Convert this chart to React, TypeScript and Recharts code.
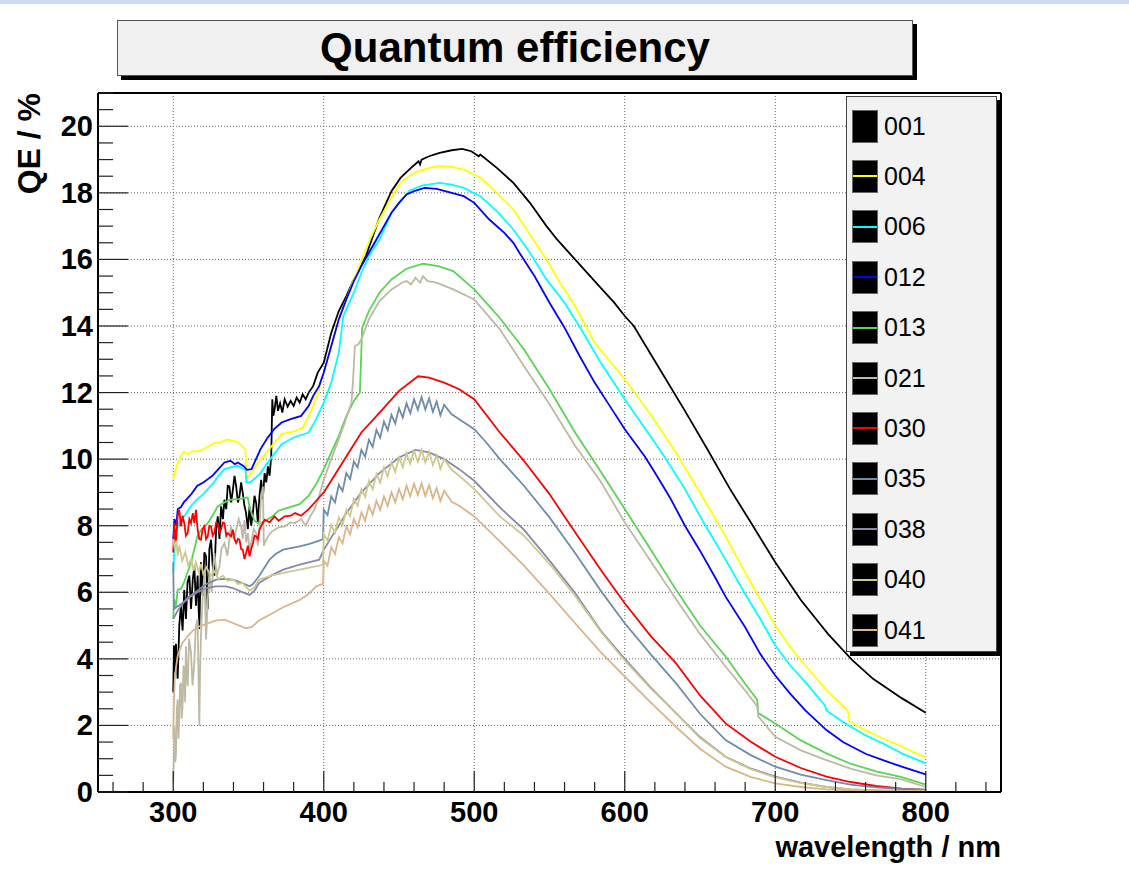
import React from 'react';
import { LineChart, Line, XAxis, YAxis, CartesianGrid, ReferenceLine, Label } from 'recharts';

type Pt = [number, number];

// axis ticks (minor every 20 nm / 0.5 %, labels on majors)
const WAVELENGTH_TICKS = [260, 280, 300, 320, 340, 360, 380, 400, 420, 440, 460, 480, 500, 520, 540, 560, 580, 600, 620, 640, 660, 680, 700, 720, 740, 760, 780, 800, 820, 840];
const WAVELENGTH_LABELS = [300, 400, 500, 600, 700, 800];
const QE_TICKS = [0, 0.5, 1, 1.5, 2, 2.5, 3, 3.5, 4, 4.5, 5, 5.5, 6, 6.5, 7, 7.5, 8, 8.5, 9, 9.5, 10, 10.5, 11, 11.5, 12, 12.5, 13, 13.5, 14, 14.5, 15, 15.5, 16, 16.5, 17, 17.5, 18, 18.5, 19, 19.5, 20, 20.5, 21];
const QE_LABELS = [0, 2, 4, 6, 8, 10, 12, 14, 16, 18, 20];

// measured curves: [wavelength nm, QE %]
const QE_001: Pt[] = [
  [300, 3.0], [300.5, 4.4], [301, 3.6], [301.8, 4.45], [302.9, 3.4], [303.5, 4.2], [304, 5.0], [305.1, 5.6], [306.2, 4.85], [307.3, 6.07],
  [308.4, 5.2], [309.5, 6.3], [310.7, 6.5], [311.8, 5.5], [313, 6.4], [314, 6.78], [315.1, 5.6], [316.2, 6.5], [317.3, 4.9], [318.4, 6.9],
  [319.6, 5.9], [320.7, 7.2], [321.8, 7.08], [322.9, 5.5], [324, 7.3], [325.1, 7.58], [326.2, 6.8], [327.3, 6.5], [328.5, 7.9], [329.6, 8.28],
  [330.7, 7.6], [331.8, 8.58], [333, 8.2], [334, 8.78], [335.2, 8.5], [336.2, 9.2], [337.3, 9.18], [338.5, 8.7], [339.6, 9.08], [340.7, 9.5],
  [341.8, 9.18], [343, 8.7], [344, 8.88], [345.1, 9.3], [346.2, 8.98], [347.3, 8.6], [348.4, 8.38], [349.6, 7.9], [350.7, 8.58], [351.8, 8.0],
  [352.9, 8.38], [354, 8.9], [355.1, 8.68], [356.2, 8.1], [357.3, 8.88], [358.4, 9.38], [359.5, 8.8], [360.7, 9.58], [361.8, 9.3], [362.9, 9.78],
  [364, 9.5], [365.1, 10.08], [365.8, 11.8], [366.5, 11.3], [367.3, 11.48], [368.5, 11.9], [369.6, 11.45], [371, 11.68], [372.5, 11.4], [374, 11.8],
  [376, 11.58], [378, 11.75], [380, 11.6], [382, 11.85], [384, 11.7], [386, 11.95], [388, 11.8], [390, 12.0], [393, 12.2], [396, 12.6],
  [400, 12.9], [405, 13.8], [410, 14.45], [415, 14.9], [420, 15.4], [428, 16.1], [437, 17.25], [445, 18.05], [451, 18.45], [458, 18.75],
  [463, 18.95], [464, 18.85], [465, 19.0], [470, 19.1], [477, 19.2], [485, 19.28], [492, 19.32], [498, 19.25], [503, 19.1], [504, 19.15],
  [515, 18.75], [526, 18.3], [537, 17.7], [548, 17.0], [555, 16.6], [571, 15.8], [583, 15.2], [593, 14.7], [600, 14.3],
  [606, 14.0], [620, 12.95], [640, 11.45], [655, 10.29], [670, 9.1], [684, 8.08], [700, 6.9], [717, 5.77], [735, 4.75], [751, 3.97],
  [765, 3.4], [784, 2.82], [800, 2.38],
];

const QE_004: Pt[] = [
  [300, 9.38], [301, 9.6], [303, 9.88], [305, 10.1], [307, 10.23], [310, 10.15], [313, 10.25], [316, 10.23], [320, 10.3], [324, 10.4],
  [327, 10.48], [331, 10.5], [336, 10.59], [340, 10.55], [343, 10.5], [345, 10.43], [348, 10.28], [348.6, 9.43], [352, 9.6], [355, 9.8],
  [358, 9.98], [362, 10.2], [367, 10.48], [372, 10.75], [381, 10.84], [386, 10.95], [390, 11.3], [393, 11.6], [397, 12.1], [402, 12.89],
  [410, 14.2], [420, 15.4], [430.7, 16.6], [437, 17.2], [445, 17.85], [450.7, 18.3], [460, 18.6], [470, 18.75], [477, 18.8], [485, 18.78],
  [493, 18.7], [504, 18.46], [515, 18.0], [526, 17.5], [537, 16.75], [548, 16.0], [557, 15.3], [567, 14.6], [580, 13.5], [590, 12.95],
  [600, 12.4], [617, 11.35], [634, 10.2], [650, 9.0], [667, 7.68], [680, 6.6], [690, 5.8], [700, 5.0], [710, 4.35], [720, 3.8],
  [734, 3.07], [748, 2.45], [749.5, 2.12], [760, 1.85], [772, 1.6], [784, 1.36], [800, 1.04],
];

const QE_006: Pt[] = [
  [300, 6.6], [301, 7.4], [302, 7.8], [304, 8.1], [306, 8.2], [309, 8.4], [312, 8.6], [316, 8.8], [320, 8.95], [323, 9.1],
  [327, 9.3], [330, 9.5], [334, 9.7], [338, 9.75], [343, 9.8], [346, 9.72], [348, 9.68], [348.6, 9.3], [351, 9.3], [355, 9.45],
  [358, 9.58], [362, 9.85], [367, 10.15], [372, 10.45], [380, 10.65], [390, 10.8], [395, 11.2], [400, 11.7], [405, 12.3], [410, 13.2],
  [413, 14.3], [420, 15.0], [425, 15.6], [430, 16.1], [437, 16.6], [445, 17.4], [450, 17.7], [457, 18.06], [465, 18.22], [477, 18.3],
  [485, 18.25], [493, 18.15], [504, 17.9], [515, 17.45], [526, 16.9], [537, 16.2], [548, 15.4], [560, 14.7], [571, 13.9], [584, 12.9],
  [600, 11.8], [613, 10.95], [626, 10.1], [640, 9.1], [653, 8.05], [667, 6.98], [680, 5.95], [690, 5.2], [700, 4.4], [710, 3.8],
  [720, 3.3], [733, 2.6], [734, 2.45], [745, 2.1], [760, 1.7], [772, 1.45], [784, 1.16], [800, 0.86],
];

const QE_012: Pt[] = [
  [300, 7.6], [300.8, 8.2], [302, 8.0], [303, 8.5], [305, 8.55], [307, 8.7], [309, 8.8], [312, 8.95], [316, 9.2], [320, 9.3],
  [323, 9.4], [326, 9.5], [330, 9.7], [334, 9.9], [338, 9.95], [341, 9.85], [343, 9.9], [347, 9.78], [349, 9.68], [352, 9.7],
  [355, 10.0], [358, 10.3], [362, 10.6], [367, 10.9], [372, 11.1], [378, 11.2], [385, 11.3], [390, 11.6], [393, 11.9], [397, 12.2],
  [400, 12.6], [405, 13.4], [410, 14.2], [415, 14.8], [420, 15.35], [425, 15.8], [430, 16.2], [435, 16.6], [440, 17.0], [445, 17.4],
  [450, 17.7], [455, 17.95], [460, 18.05], [467, 18.15], [475, 18.12], [485, 18.0], [493, 17.9], [500, 17.7], [510, 17.2], [520, 16.8],
  [526, 16.5], [530, 16.2], [540, 15.5], [550, 14.7], [560, 13.95], [570, 13.1], [580, 12.3], [590, 11.6], [600, 10.9], [613, 10.1],
  [620, 9.6], [630, 8.85], [640, 8.0], [650, 7.25], [660, 6.45], [667, 5.87], [680, 4.95], [690, 4.15], [700, 3.5], [710, 2.95],
  [720, 2.45], [734, 1.86], [745, 1.5], [760, 1.15], [772, 0.95], [784, 0.76], [800, 0.53],
];

const QE_013: Pt[] = [
  [300, 5.2], [300.6, 5.8], [301.5, 5.5], [303, 6.08], [305, 6.1], [307, 6.28], [309.5, 6.6], [311.8, 6.88], [314, 7.3], [316, 7.68],
  [319, 7.9], [323, 8.08], [326, 8.3], [329.6, 8.58], [334, 8.7], [338, 8.78], [343, 8.8], [347, 8.83], [349.5, 8.85], [351, 8.5],
  [354, 8.15], [357, 8.05], [361, 8.15], [365, 8.25], [370, 8.45], [377, 8.55], [384, 8.65], [390, 8.9], [395, 9.25], [400, 9.7],
  [405, 10.2], [410, 10.7], [415, 11.29], [420, 11.75], [424, 12.0], [424.8, 13.0], [425.5, 13.94], [430, 14.45], [437, 15.0], [445, 15.4],
  [455, 15.72], [466, 15.87], [476, 15.8], [486, 15.65], [500, 15.1], [517, 14.24], [533, 13.3], [550, 12.1], [567, 10.8], [584, 9.63],
  [600, 8.5], [617, 7.3], [634, 6.08], [650, 5.0], [667, 4.07], [680, 3.25], [688, 2.77], [688.7, 2.37], [700, 2.06], [717, 1.55],
  [734, 1.16], [750, 0.85], [767, 0.62], [784, 0.45], [800, 0.22],
];

const QE_021: Pt[] = [
  [300, 0.3], [300.5, 1.2], [300.7, 2.0], [301.3, 0.9], [301.8, 1.1], [302.4, 2.5], [302.9, 2.78], [303.5, 1.6], [304, 2.28], [304.5, 3.2],
  [305.1, 3.28], [305.6, 2.2], [306.2, 2.58], [306.8, 3.8], [307.3, 3.58], [307.9, 2.7], [308.4, 4.38], [309, 3.5], [309.6, 3.18], [310.5, 4.6],
  [311.8, 4.18], [312.8, 3.2], [314, 3.88], [315, 5.0], [316.2, 5.18], [317.3, 1.98], [317.8, 3.5], [318.4, 4.68], [319.5, 5.8], [320.7, 6.58],
  [321.8, 4.58], [323, 5.8], [324, 6.58], [325.5, 6.0], [327.3, 7.18], [329, 6.5], [330.7, 6.78], [332, 7.3], [334, 7.48], [336, 7.1],
  [338.4, 7.98], [340, 7.6], [341.8, 7.88], [343.5, 8.2], [345.1, 7.98], [346.2, 7.6], [347.3, 8.18], [348.5, 7.5], [349.6, 7.78], [350.7, 7.3],
  [351.8, 7.48], [353.5, 7.9], [355.1, 7.78], [356.2, 7.4], [357.3, 7.98], [358.4, 8.88], [359.6, 9.18], [360.2, 7.4], [360.7, 7.48], [362.9, 7.68],
  [365, 7.8], [367.3, 7.88], [370, 7.95], [374, 7.98], [378, 8.1], [381, 8.08], [385, 8.2], [388, 8.0], [391, 8.28], [394, 8.5],
  [397, 8.9], [400, 9.38], [405, 10.0], [410, 10.6], [414, 11.1], [418.4, 11.7], [419.5, 12.4], [420.7, 13.4], [423, 13.45], [425, 13.6],
  [430, 14.2], [437, 14.75], [445, 15.1], [452, 15.3], [455, 15.35], [458, 15.25], [461, 15.45], [464, 15.3], [466, 15.5], [469, 15.35],
  [475, 15.3], [486, 15.1], [500, 14.8], [517, 13.9], [533, 12.8], [550, 11.65], [567, 10.4], [584, 9.33], [600, 8.1], [617, 6.95],
  [634, 5.8], [650, 4.75], [667, 3.77], [680, 3.05], [688, 2.57], [688.7, 2.27], [700, 1.66], [717, 1.25], [734, 0.96], [750, 0.7],
  [767, 0.5], [784, 0.38], [800, 0.15],
];

const QE_030: Pt[] = [
  [300, 7.2], [300.7, 8.08], [301.8, 7.48], [302.9, 8.28], [304, 8.48], [305.1, 7.98], [306.2, 8.3], [307.3, 8.08], [308.4, 7.7], [309.6, 7.78],
  [310.7, 8.2], [311.8, 8.08], [313, 8.38], [314, 8.08], [315.1, 8.48], [316.2, 7.88], [317.3, 7.6], [318.4, 7.58], [319.6, 7.9], [320.7, 7.98],
  [321.8, 7.6], [322.9, 7.68], [324, 8.0], [325.1, 7.98], [326.2, 7.7], [327.3, 7.78], [328.5, 8.1], [329.6, 8.08], [330.7, 7.8], [331.8, 7.88],
  [333, 8.1], [334, 8.08], [335.2, 7.7], [336.2, 7.78], [338.4, 7.68], [339.6, 7.88], [340.7, 7.6], [341.8, 7.48], [343, 7.6], [344, 7.58],
  [345.1, 7.3], [346.2, 7.28], [347.3, 7.0], [348.4, 7.18], [349.6, 7.4], [350.7, 7.08], [351.8, 7.3], [353, 7.48], [354, 7.7], [355.1, 7.68],
  [356.2, 7.6], [357.3, 7.88], [358.4, 7.98], [360.7, 8.18], [364, 8.1], [367.3, 8.28], [370, 8.15], [374, 8.28], [378, 8.3], [381, 8.38],
  [385, 8.3], [390, 8.5], [395, 8.75], [400, 9.0], [407, 9.5], [415, 10.08], [425, 10.8], [437, 11.39], [450, 12.05], [462.7, 12.49],
  [470, 12.45], [480, 12.3], [490, 12.1], [500, 11.8], [517, 10.8], [533, 9.95], [550, 8.95], [567, 7.8], [584, 6.68], [600, 5.67],
  [617, 4.7], [634, 3.87], [650, 2.9], [667, 2.06], [684, 1.5], [700, 1.06], [717, 0.72], [734, 0.46], [750, 0.3], [767, 0.18],
  [784, 0.1], [800, 0.06],
];

const QE_035: Pt[] = [
  [300, 6.9], [300.4, 5.5], [302, 5.55], [306, 5.67], [310, 5.85], [317, 6.08], [322, 6.25], [328.5, 6.38], [334, 6.4], [339.5, 6.38],
  [346, 6.28], [350.7, 6.18], [353, 6.25], [357, 6.48], [360, 6.7], [364, 6.98], [368, 7.15], [373, 7.28], [378, 7.33], [384, 7.38],
  [390, 7.45], [397, 7.55], [399.5, 7.6], [400, 8.48], [402.5, 8.32], [405, 8.88], [407.5, 8.7], [410, 9.23], [412.5, 9.04], [415, 9.58],
  [417.5, 9.4], [420, 9.93], [422.5, 9.75], [425, 10.28], [427.5, 10.07], [430, 10.58], [432.5, 10.37], [435, 10.88], [437.5, 10.64], [440, 11.13],
  [442.5, 10.87], [445, 11.33], [447.5, 11.07], [450, 11.53], [452.5, 11.25], [455, 11.68], [457.5, 11.38], [460, 11.8], [462.5, 11.48], [465, 11.86],
  [467.5, 11.49], [470, 11.83], [472.5, 11.42], [475, 11.73], [477.5, 11.32], [480, 11.63], [485, 11.35], [490, 11.2], [500, 10.9], [508, 10.5],
  [517, 10.0], [533, 9.2], [550, 8.25], [567, 7.18], [584, 6.05], [600, 5.07], [617, 4.15], [634, 3.27], [650, 2.35], [667, 1.56],
  [684, 1.1], [700, 0.76], [717, 0.52], [734, 0.36], [750, 0.22], [767, 0.14], [784, 0.09], [800, 0.07],
];

const QE_038: Pt[] = [
  [300, 5.2], [303, 5.45], [307, 5.7], [311, 5.85], [316, 6.0], [322, 6.12], [328, 6.18], [335, 6.18], [340, 6.12], [345, 6.02],
  [350.7, 5.92], [354, 6.05], [357, 6.28], [365, 6.5], [373, 6.68], [384, 6.83], [392, 6.92], [397, 6.98], [400, 7.28], [405, 7.65],
  [410, 8.0], [415, 8.38], [425, 9.0], [437, 9.58], [450, 10.05], [461, 10.28], [470, 10.2], [480, 10.0], [490, 9.7], [500, 9.35],
  [517, 8.55], [533, 7.88], [550, 6.95], [567, 5.98], [584, 4.85], [600, 4.0], [617, 3.15], [634, 2.37], [650, 1.65], [667, 1.06],
  [684, 0.7], [700, 0.46], [717, 0.28], [734, 0.15], [750, 0.08], [767, 0.05], [784, 0.03], [800, 0.03],
];

const QE_040: Pt[] = [
  [300, 7.6], [301, 7.3], [302, 7.55], [303, 7.1], [304, 7.4], [306, 6.95], [308, 7.2], [310, 6.8], [312, 7.0], [313.5, 6.65],
  [315, 6.9], [317, 6.6], [318.5, 6.85], [320, 6.55], [322, 6.75], [325, 6.5], [327, 6.65], [330, 6.4], [333, 6.5], [336, 6.35],
  [340, 6.38], [343, 6.25], [346, 6.28], [350.7, 6.05], [354, 6.15], [357, 6.38], [365, 6.5], [373, 6.58], [384, 6.68], [397, 6.8],
  [399.5, 6.83], [400, 7.75], [402.5, 7.55], [405, 8.02], [407.5, 7.79], [410, 8.25], [412.5, 8.02], [415, 8.48], [417.5, 8.29], [420, 8.8],
  [422.5, 8.6], [425, 9.1], [427.5, 8.87], [430, 9.35], [432.5, 9.1], [435, 9.55], [437.5, 9.3], [440, 9.75], [442.5, 9.48], [445, 9.9],
  [447.5, 9.62], [450, 10.05], [452.5, 9.76], [455, 10.17], [457.5, 9.86], [460, 10.25], [462.5, 9.92], [465, 10.28], [467.5, 9.9], [470, 10.22],
  [472.5, 9.82], [475, 10.12], [477.5, 9.71], [480, 10.0], [485, 9.68], [490, 9.5], [500, 9.1], [517, 8.28], [533, 7.7], [550, 6.85],
  [567, 5.9], [584, 4.82], [600, 3.95], [617, 3.12], [634, 2.37], [650, 1.62], [667, 1.05], [684, 0.68], [700, 0.44], [717, 0.27],
  [734, 0.15], [750, 0.08], [767, 0.05], [784, 0.03], [800, 0.03],
];

const QE_041: Pt[] = [
  [300, 1.6], [300.5, 2.8], [301, 3.4], [302, 3.8], [303, 4.1], [306, 4.47], [310, 4.7], [313, 4.85], [317, 4.97], [322, 5.05],
  [328, 5.15], [334, 5.18], [340, 5.07], [344, 5.0], [348, 4.92], [352, 4.95], [357, 5.15], [365, 5.35], [373, 5.55], [384, 5.77],
  [390, 5.95], [395, 6.18], [399.5, 6.25], [400, 6.95], [402.5, 6.8], [405, 7.35], [407.5, 7.15], [410, 7.65], [412.5, 7.47], [415, 7.98],
  [417.5, 7.74], [420, 8.2], [422.5, 7.95], [425, 8.4], [427.5, 8.15], [430, 8.6], [432.5, 8.33], [435, 8.75], [437.5, 8.47], [440, 8.88],
  [442.5, 8.59], [445, 9.0], [447.5, 8.7], [450, 9.1], [452.5, 8.8], [455, 9.2], [457.5, 8.88], [460, 9.26], [462.5, 8.92], [465, 9.27],
  [467.5, 8.9], [470, 9.22], [472.5, 8.83], [475, 9.13], [477.5, 8.74], [480, 9.05], [485, 8.72], [490, 8.6], [500, 8.28], [517, 7.53],
  [533, 6.8], [550, 5.95], [567, 5.07], [584, 4.2], [600, 3.47], [617, 2.7], [634, 1.96], [650, 1.3], [667, 0.76], [684, 0.45],
  [700, 0.26], [717, 0.15], [734, 0.08], [750, 0.05], [767, 0.03], [784, 0.02], [800, 0.02],
];

const SERIES = [
  { name: '001', color: '#000000', points: QE_001 },
  { name: '004', color: '#ffff00', points: QE_004 },
  { name: '006', color: '#00ffff', points: QE_006 },
  { name: '012', color: '#0000ff', points: QE_012 },
  { name: '013', color: '#59d454', points: QE_013 },
  { name: '021', color: '#bdb9a3', points: QE_021 },
  { name: '030', color: '#ff0000', points: QE_030 },
  { name: '035', color: '#6f8dab', points: QE_035 },
  { name: '038', color: '#8a88aa', points: QE_038 },
  { name: '040', color: '#cdc98c', points: QE_040 },
  { name: '041', color: '#dcb489', points: QE_041 },
];

const FONT = '"Liberation Sans", Arial, Helvetica, sans-serif';

const XTick = (props: any) => {
  const { x, y, payload } = props;
  const major = WAVELENGTH_LABELS.includes(payload.value);
  return (
    <g>
      <line x1={x} x2={x} y1={y} y2={y - (major ? 21 : 10)} stroke="#222" strokeWidth={1.2} />
      {major && (
        <text x={x} y={y + 30} textAnchor="middle" fontFamily={FONT} fontWeight="bold" fontSize={29} fill="#000">
          {payload.value}
        </text>
      )}
    </g>
  );
};

const YTick = (props: any) => {
  const { x, y, payload } = props;
  const major = QE_LABELS.includes(payload.value);
  return (
    <g>
      <line x1={x} x2={x + (major ? 30 : 15)} y1={y} y2={y} stroke="#222" strokeWidth={1.2} />
      {major && (
        <text x={x - 5} y={y + 10} textAnchor="end" fontFamily={FONT} fontWeight="bold" fontSize={29} fill="#000">
          {payload.value}
        </text>
      )}
    </g>
  );
};

const XTitle = (props: any) => {
  const vb = props.viewBox;
  return (
    <text x={vb.x + vb.width} y={vb.y + 65} textAnchor="end" fontFamily={FONT} fontWeight="bold" fontSize={29} fill="#000">
      wavelength / nm
    </text>
  );
};

const YTitle = (props: any) => {
  const vb = props.viewBox;
  return (
    <text transform={`translate(${vb.x + 40}, ${vb.y}) rotate(-90)`} textAnchor="end" fontFamily={FONT} fontWeight="bold" fontSize={32} fill="#000">
      QE / %
    </text>
  );
};

const LegendBox = () => (
  <div
    style={{
      position: 'absolute', left: 846, top: 96, width: 151, height: 556, boxSizing: 'border-box',
      background: '#f2f2f2', border: '1px solid #444', boxShadow: '4px 4px 0 #000', fontFamily: FONT,
    }}
  >
    {SERIES.map((s, i) => (
      <div key={s.name} style={{ position: 'absolute', left: 5, top: 12 + i * 50.4, height: 34, display: 'flex', alignItems: 'center' }}>
        <div style={{ position: 'relative', width: 26, height: 33, background: '#000', border: '1px solid #666', boxSizing: 'border-box' }}>
          <div style={{ position: 'absolute', left: 0, right: 0, top: 14.5, height: 2, background: s.color }} />
        </div>
        <span style={{ marginLeft: 6, fontSize: 25, color: '#000' }}>{s.name}</span>
      </div>
    ))}
  </div>
);

export default function App() {
  return (
    <div style={{ position: 'absolute', left: 0, top: 0, width: 1129, height: 869, background: '#fff', overflow: 'hidden' }}>
      <div style={{ position: 'absolute', left: 0, top: 0, width: 1129, height: 4, background: '#cddcf0' }} />
      <LineChart width={1129} height={869} margin={{ top: 93, right: 128, bottom: 0, left: 0 }}>
        <CartesianGrid
          horizontalValues={QE_LABELS.filter((v) => v > 0)}
          verticalValues={WAVELENGTH_LABELS}
          stroke="#666"
          strokeDasharray="1 2"
        />
        <XAxis
          type="number"
          dataKey="x"
          domain={[250, 850]}
          ticks={WAVELENGTH_TICKS}
          interval={0}
          allowDataOverflow
          height={77}
          tickSize={0}
          tickMargin={0}
          tickLine={false}
          axisLine={{ stroke: '#000', strokeWidth: 2 }}
          tick={(p: any) => <XTick {...p} />}
        >
          <Label content={(p: any) => <XTitle {...p} />} />
        </XAxis>
        <YAxis
          type="number"
          domain={[0, 21]}
          ticks={QE_TICKS}
          interval={0}
          allowDataOverflow
          width={98}
          tickSize={0}
          tickMargin={0}
          tickLine={false}
          axisLine={{ stroke: '#000', strokeWidth: 2 }}
          tick={(p: any) => <YTick {...p} />}
        >
          <Label content={(p: any) => <YTitle {...p} />} />
        </YAxis>
        <ReferenceLine y={21} stroke="#000" strokeWidth={2} />
        <ReferenceLine x={850} stroke="#000" strokeWidth={2} />
        {SERIES.map((s) => (
          <Line
            key={s.name}
            name={s.name}
            data={s.points.map(([x, y]) => ({ x, y }))}
            dataKey="y"
            type="linear"
            stroke={s.color}
            strokeWidth={1.8}
            dot={false}
            activeDot={false}
            isAnimationActive={false}
          />
        ))}
      </LineChart>
      <div
        style={{
          position: 'absolute', left: 117, top: 20, width: 796, height: 56, boxSizing: 'border-box',
          background: '#f0f0f0', border: '1px solid #555', boxShadow: '4px 4px 0 #000',
          display: 'flex', alignItems: 'center', justifyContent: 'center',
          fontFamily: FONT, fontWeight: 'bold', fontSize: 42, color: '#000',
        }}
      >
        Quantum efficiency
      </div>
      <LegendBox />
    </div>
  );
}
